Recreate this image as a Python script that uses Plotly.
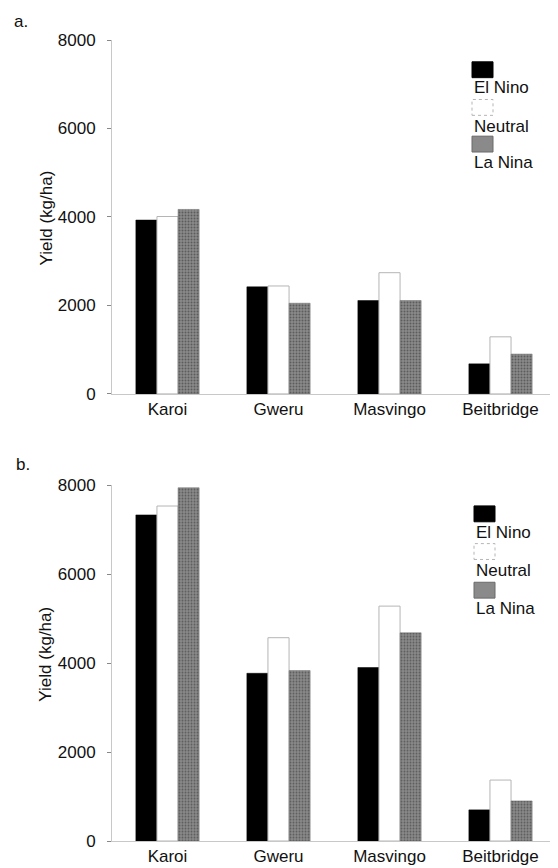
import plotly.graph_objects as go

categories = ["Karoi", "Gweru", "Masvingo", "Beitbridge"]
series_names = ["El Nino", "Neutral", "La Nina"]

a_el_nino = [3930, 2420, 2110, 680]
a_neutral = [4010, 2440, 2740, 1290]
a_la_nina = [4170, 2050, 2110, 900]

b_el_nino = [7330, 3770, 3900, 700]
b_neutral = [7530, 4570, 5280, 1370]
b_la_nina = [7940, 3830, 4680, 900]

y_ticks = [0, 2000, 4000, 6000, 8000]

# the page body adds an 8px margin; size the figure to fit the window
OFF = 8
W, H = 558 - OFF, 868 - OFF
# plot area in reference-window pixels: x 112..556, y 40..848
RL, RR, RT, RB = 112, 556, 40, 848
ML, MR, MT, MB = RL - OFF, W - (RR - OFF), RT - OFF, H - (RB - OFF)


def px(xr):
    return (xr - RL) / (RR - RL)


def py(yr):
    return (RB - yr) / (RB - RT)


FONT = "Liberation Sans, Arial, sans-serif"
FS = 17

fig = go.Figure()

styles = [
    dict(marker=dict(color="#000000", line=dict(color="#000000", width=0.5))),
    dict(marker=dict(color="#ffffff", line=dict(color="#b5b5b5", width=1))),
    dict(marker=dict(color="#8a8a8a", line=dict(color="#6a6a6a", width=0.5),
                     pattern=dict(shape=".", fgcolor="#2e2e2e", size=3, solidity=0.35))),
]

panels = [
    ("x", "y", [a_el_nino, a_neutral, a_la_nina]),
    ("x2", "y2", [b_el_nino, b_neutral, b_la_nina]),
]
for xa, ya, vals in panels:
    for name, v, st in zip(series_names, vals, styles):
        fig.add_trace(go.Bar(x=categories, y=v, name=name, xaxis=xa, yaxis=ya,
                             showlegend=False, **st))

axis_common_y = dict(range=[0, 8000], tickvals=y_ticks, ticks="outside", ticklen=4,
                     tickcolor="#888", showline=True, linecolor="#c8c8c8", linewidth=1,
                     showgrid=False, zeroline=False, ticklabelstandoff=8,
                     tickfont=dict(family=FONT, size=FS, color="#111"))
axis_common_x = dict(range=[-0.5, 3.5], showline=True, linecolor="#c8c8c8", linewidth=1,
                     showgrid=False, ticks="", tickfont=dict(family=FONT, size=FS, color="#111"))

fig.update_layout(
    width=W, height=H,
    margin=dict(l=ML, r=MR, t=MT, b=MB),
    paper_bgcolor="white", plot_bgcolor="white",
    barmode="group", bargap=0.43, bargroupgap=0,
    xaxis=dict(domain=[0, 1], anchor="y", **axis_common_x),
    yaxis=dict(domain=[py(397), 1.0], anchor="x", **axis_common_y),
    xaxis2=dict(domain=[0, 1], anchor="y2", **axis_common_x),
    yaxis2=dict(domain=[0, py(489)], anchor="x2", **axis_common_y),
    showlegend=False,
)

annotations = []
shapes = []
# panel labels
annotations.append(dict(text="a.", x=px(12), y=py(21), xref="paper", yref="paper",
                        xanchor="left", yanchor="middle", showarrow=False,
                        font=dict(family=FONT, size=FS, color="#111")))
annotations.append(dict(text="b.", x=px(14), y=py(468), xref="paper", yref="paper",
                        xanchor="left", yanchor="middle", showarrow=False,
                        font=dict(family=FONT, size=FS, color="#111")))
# y titles
for yc in (220, 660):
    annotations.append(dict(text="Yield (kg/ha)", x=px(46), y=py(yc), xref="paper", yref="paper",
                            xanchor="center", yanchor="middle", textangle=-90, showarrow=False,
                            font=dict(family=FONT, size=FS, color="#111")))

# custom legends (swatch above text)
legend_layout = [
    (472, [(62, 88), (100, 127), (137, 164)]),
    (474, [(510, 537), (548, 575), (587, 613)]),
]
sw_w, sw_h = 21, 16
for x0, items in legend_layout:
    for (sy, ty), name, st in zip(items, series_names, styles):
        m = st["marker"]
        shp = dict(type="rect", xref="paper", yref="paper",
                   x0=px(x0), x1=px(x0 + sw_w), y0=py(sy + sw_h), y1=py(sy),
                   fillcolor=m["color"], line=dict(color=m["line"]["color"], width=1))
        if name == "Neutral":
            shp["line"]["dash"] = "dot"
        shapes.append(shp)
        annotations.append(dict(text=name, x=px(x0), y=py(ty), xref="paper", yref="paper",
                                xanchor="left", yanchor="middle", showarrow=False,
                                font=dict(family=FONT, size=FS, color="#111")))

fig.update_layout(annotations=annotations, shapes=shapes)
fig.write_html("out.html")
